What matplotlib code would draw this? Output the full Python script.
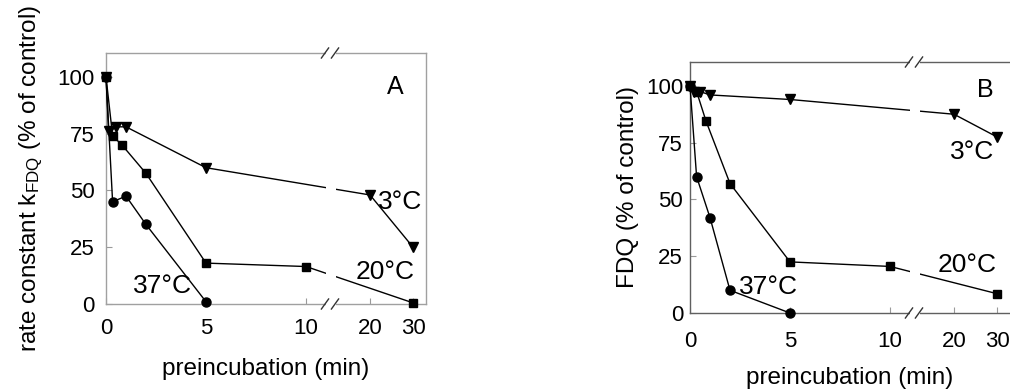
import numpy as np
import matplotlib
matplotlib.use("Agg")
import matplotlib.pyplot as plt
from matplotlib.lines import Line2D
from matplotlib.patches import Rectangle

plt.rcParams['font.family'] = ['Liberation Sans', 'DejaVu Sans']
plt.rcParams['mathtext.fontset'] = 'custom'
plt.rcParams['mathtext.rm'] = 'Liberation Sans'
plt.rcParams['mathtext.it'] = 'Liberation Sans:italic'

# ---- data (preincubation time in min, % of control) ----
xticks = [0, 5, 10, 20, 30]
xticklabels = ['0', '5', '10', '20', '30']
yticks = [0, 25, 50, 75, 100]

a_x37 = [0, 0.33, 1, 2, 5]
a_y37 = [100, 45, 47.5, 35, 1]
a_x20 = [0, 0.33, 0.8, 2, 5, 10, 30]
a_y20 = [100, 74, 70, 57.5, 18, 16.5, 0.5]
a_x3 = [0, 0.13, 0.5, 1, 5, 20, 30]
a_y3 = [100, 76, 78, 78, 60, 48, 25]

b_x37 = [0, 0.33, 1, 2, 5]
b_y37 = [100, 60, 42, 10, 0]
b_x20 = [0, 0.33, 0.8, 2, 5, 10, 30]
b_y20 = [100, 97.5, 84.5, 57, 22.5, 20.5, 8.5]
b_x3 = [0, 0.2, 0.5, 1, 5, 20, 30]
b_y3 = [100, 97.5, 97.5, 96, 94, 87.5, 77.5]

# broken axis scale: linear up to B, compressed beyond
B = 11.34
K = 0.215


def fwd(x):
    x = np.asarray(x, dtype=float)
    return np.where(x <= B, x, B + (x - B) * K)


def inv(u):
    u = np.asarray(u, dtype=float)
    return np.where(u <= B, u, B + (u - B) / K)


fig = plt.figure(figsize=(10.1, 3.9), dpi=100)
W, H = 1010, 390


def make_axes(left, right, top, bottom):
    return fig.add_axes([left / W, (H - bottom) / H, (right - left) / W, (bottom - top) / H])


axA = make_axes(106, 426, 53, 304)
axB = make_axes(690, 1010, 62, 313)

UMAX = 16.0


def style(ax, ylabel, ytickpad, xtickpad, ylab_x, xlab_y, spine_col, right_spine=True):
    ax.set_xscale('function', functions=(fwd, inv))
    ax.set_xlim(0, float(inv(UMAX)))
    ax.set_ylim(0, 110.5)
    ax.set_xticks(xticks)
    ax.set_xticklabels(xticklabels)
    ax.set_yticks(yticks)
    ax.minorticks_off()
    ax.tick_params(axis='both', direction='in', length=4, width=0.8, color='#9a9a9a',
                   labelsize=16)
    ax.tick_params(axis='x', pad=xtickpad)
    ax.tick_params(axis='y', pad=ytickpad)
    for s in ax.spines.values():
        s.set_color(spine_col)
        s.set_linewidth(1.0)
    if not right_spine:
        ax.spines['right'].set_visible(False)
    ax.set_ylabel(ylabel, fontsize=17.5)
    ax.yaxis.set_label_coords(ylab_x, 0.5)
    ax.set_xlabel('preincubation (min)', fontsize=17.5)
    ax.xaxis.set_label_coords(0.5, xlab_y)

    # gap in lines and spines at the break
    g0, g1 = 11.0 / UMAX, 11.5 / UMAX
    ax.add_patch(Rectangle((g0, -0.01), g1 - g0, 1.02, transform=ax.transAxes,
                           facecolor='white', edgecolor='none', zorder=3, clip_on=False))
    # break marks "//" on top and bottom
    for yb in (0.0, 1.0):
        for xc in (10.95, 11.45):
            x0 = (xc - 0.18) / UMAX
            x1 = (xc + 0.18) / UMAX
            ax.add_line(Line2D([x0, x1], [yb - 0.02, yb + 0.02], transform=ax.transAxes,
                               color='#333333', lw=1.0, zorder=4, clip_on=False))


def plot_series(ax, x37, y37, x20, y20, x3, y3):
    kw = dict(color='black', lw=1.0, clip_on=False, zorder=2.6)
    ax.plot(x37, y37, marker='o', ms=6.5, **kw)
    ax.plot(x20, y20, marker='s', ms=6.0, **kw)
    ax.plot(x3, y3, marker='v', ms=6.8, **kw)


plot_series(axA, a_x37, a_y37, a_x20, a_y20, a_x3, a_y3)
plot_series(axB, b_x37, b_y37, b_x20, b_y20, b_x3, b_y3)

style(axA, r'rate constant k$_{\mathrm{FDQ}}$ (% of control)', 8, 10, -0.19, -0.215, '#a0a0a0')
style(axB, 'FDQ (% of control)', 5, 13, -0.16, -0.215, '#606060', right_spine=False)

ann = dict(ha='center', va='center', fontsize=19)
axA.text(0.903, 0.865, 'A', transform=axA.transAxes, ha='center', va='center', fontsize=18)
axA.text(0.919, 0.406, '3°C', transform=axA.transAxes, **ann)
axA.text(0.872, 0.127, '20°C', transform=axA.transAxes, **ann)
axA.text(0.175, 0.072, '37°C', transform=axA.transAxes, **ann)

axB.text(0.922, 0.888, 'B', transform=axB.transAxes, ha='center', va='center', fontsize=18)
axB.text(0.881, 0.641, '3°C', transform=axB.transAxes, **ann)
axB.text(0.866, 0.191, '20°C', transform=axB.transAxes, **ann)
axB.text(0.244, 0.104, '37°C', transform=axB.transAxes, **ann)

fig.savefig('out.png', dpi=100)
